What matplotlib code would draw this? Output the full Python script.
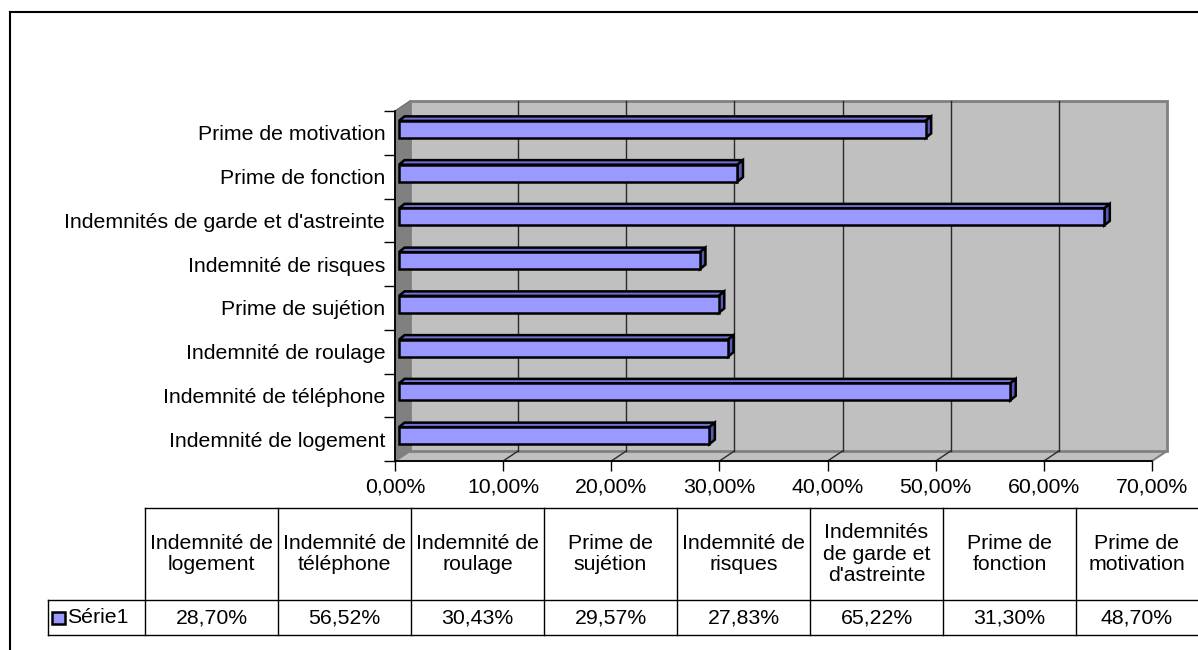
import textwrap
import numpy as np
import matplotlib
matplotlib.use('Agg')
import matplotlib.pyplot as plt
from matplotlib.patches import Polygon, Rectangle
from matplotlib.lines import Line2D

# Data (bottom to top on the chart, left to right in the table)
categories = ['Indemnité de logement', 'Indemnité de téléphone', 'Indemnité de roulage',
              'Prime de sujétion', 'Indemnité de risques',
              "Indemnités de garde et d'astreinte", 'Prime de fonction', 'Prime de motivation']
values = [28.70, 56.52, 30.43, 29.57, 27.83, 65.22, 31.30, 48.70]
series_name = 'Série1'
xticks = [0, 10, 20, 30, 40, 50, 60, 70]

def pct(v):
    return ('%.2f%%' % v).replace('.', ',')

plt.rcParams['font.family'] = ['Liberation Sans', 'DejaVu Sans']
fs = 15.3
bar_front = '#9999FF'
bar_top = '#7272D6'
bar_side = '#5A5AB4'

W, H = 1198., 650.
fig = plt.figure(figsize=(W/100, H/100), dpi=100, facecolor='w')

# outer chart area border
fig.add_artist(Line2D([10/W, 10/W], [0, 1-12/H], color='k', lw=1.5))
fig.add_artist(Line2D([10/W, 1], [1-12/H, 1-12/H], color='k', lw=1.5))

# front plane of the 3d plot
ax = fig.add_axes([395/W, (H-461)/H, 757/W, 350/H])
ax.set_xlim(0, 70)
ax.set_ylim(0, 8)
ax.set_facecolor('none')
pos = ax.get_position()
px_x = 70./(pos.width*W)
px_y = 8./(pos.height*H)
dx, dy = 15*px_x, 10*px_y

# walls and floor
ax.add_patch(Polygon([(0, 0), (dx, dy), (dx, 8+dy), (0, 8)], closed=True,
                     fc='#808080', ec='#707070', lw=1, clip_on=False, zorder=1))
ax.add_patch(Polygon([(0, 0), (70, 0), (70+dx, dy), (dx, dy)], closed=True,
                     fc='#C0C0C0', ec='#808080', lw=1.5, clip_on=False, zorder=1))
ax.add_patch(Rectangle((dx, dy), 70, 8, fc='#C0C0C0', ec='#808080', lw=2,
                       clip_on=False, zorder=1))
for k in xticks[1:-1]:
    ax.plot([k+dx, k+dx], [dy, 8+dy], color='#2a2a2a', lw=1, clip_on=False, zorder=2)
    ax.plot([k, k+dx], [0, dy], color='#2a2a2a', lw=1, clip_on=False, zorder=2)

# bars
h = 17*px_y
f0, f1 = 4*px_x, 3.5*px_y
b0, b1 = 9.5*px_x, 8*px_y
for i, v in enumerate(values):
    y0 = i + 0.5 - h/2 + f1
    y1 = y0 + h
    top = [(f0, y1), (f0+v, y1), (b0+v, y1+b1-f1), (b0, y1+b1-f1)]
    side = [(f0+v, y0), (b0+v, y0+b1-f1), (b0+v, y1+b1-f1), (f0+v, y1)]
    ax.add_patch(Polygon(top, closed=True, fc=bar_top, ec='k', lw=1.8, clip_on=False, zorder=3))
    ax.add_patch(Polygon(side, closed=True, fc=bar_side, ec='k', lw=1.8, clip_on=False, zorder=3))
    ax.add_patch(Rectangle((f0, y0), v, h, fc=bar_front, ec='k', lw=1.8, clip_on=False, zorder=4))

# axes
for s in ['top', 'right']:
    ax.spines[s].set_visible(False)
for s in ['left', 'bottom']:
    ax.spines[s].set_linewidth(1.3)
    ax.spines[s].set_zorder(5)
ax.set_xticks(xticks)
ax.set_xticklabels([pct(k) for k in xticks], fontsize=fs)
ax.tick_params(axis='x', direction='out', length=7, width=1, pad=5)
ax.set_yticks(np.arange(0, 9))
ax.set_yticklabels([])
ax.tick_params(axis='y', which='major', direction='out', length=8, width=1)
ax.set_yticks(np.arange(len(categories)) + 0.5, minor=True)
ax.set_yticklabels(categories, minor=True, fontsize=fs)
ax.tick_params(axis='y', which='minor', length=0, pad=7)

# data table
label_w, col_w = 97, 133
row_h, head_h = 35, 92
tab_w = W - 48
tab = fig.add_axes([48/W, (H-635)/H, tab_w/W, (row_h+head_h)/H])
tab.set_xlim(0, tab_w)
tab.set_ylim(0, row_h+head_h)
tab.axis('off')
lc = dict(color='k', lw=1, clip_on=False)
tab.plot([0, tab_w], [0, 0], **lc)
tab.plot([0, tab_w], [row_h, row_h], **lc)
tab.plot([label_w, tab_w], [row_h+head_h, row_h+head_h], **lc)
tab.plot([0, 0], [0, row_h], **lc)
for j in range(len(categories)):
    left = label_w + j*col_w
    right = min(left + col_w, tab_w)
    tab.plot([left, left], [0, row_h+head_h], **lc)
    xc = (left + right)/2.
    tab.text(xc, row_h + head_h/2., textwrap.fill(categories[j], 12), ha='center',
             va='center', fontsize=fs, linespacing=1.15)
    tab.text(xc, row_h/2., pct(values[j]), ha='center', va='center', fontsize=fs)
tab.add_patch(Rectangle((4, row_h/2.-6), 13, 12, fc=bar_front, ec='k', lw=1.8, clip_on=False))
tab.text(19, row_h/2., series_name, ha='left', va='center', fontsize=fs)

fig.savefig('out.png', dpi=100, facecolor='w')
